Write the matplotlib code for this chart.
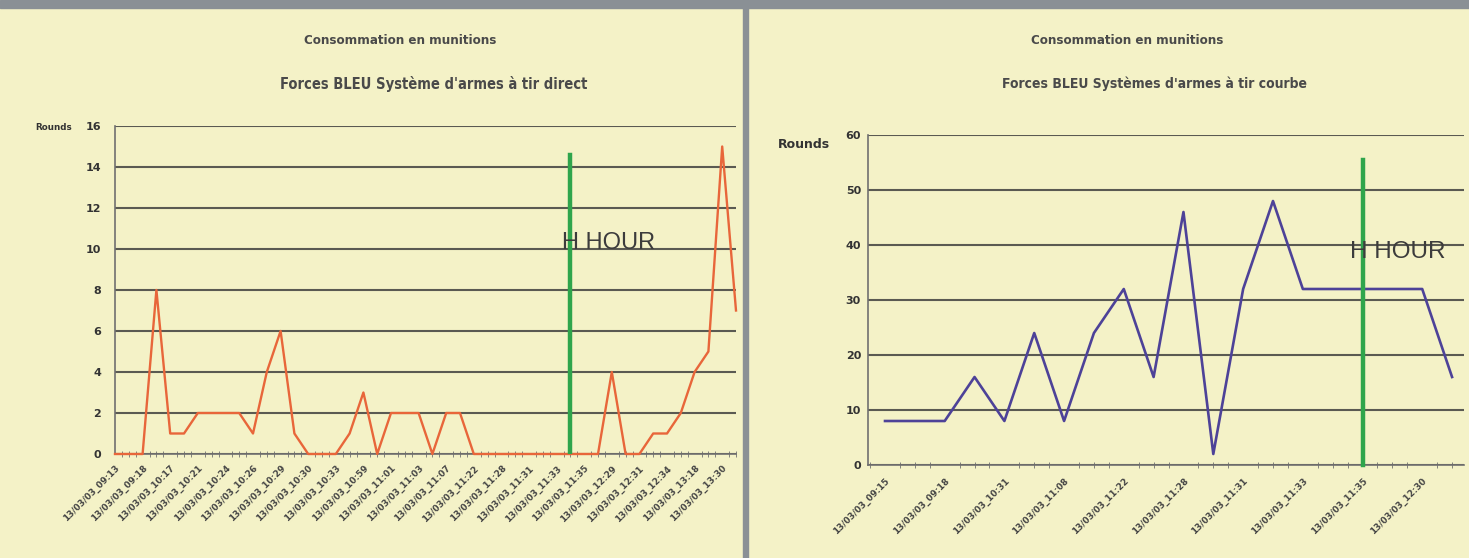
import matplotlib.pyplot as plt
import numpy as np
from matplotlib.patches import Rectangle

# tir direct (left chart), one value per time stamp
direct_rounds = [0, 0, 0, 8, 1, 1, 2, 2, 2, 2, 1, 4, 6, 1, 0, 0, 0, 1, 3, 0,
                 2, 2, 2, 0, 2, 2, 0, 0, 0, 0, 0, 0, 0, 0, 0, 0, 4, 0, 0, 1,
                 1, 2, 4, 5, 15, 7]
direct_labels = ["09:13", "09:18", "10:17", "10:21", "10:24", "10:26", "10:29",
                 "10:30", "10:33", "10:59", "11:01", "11:03", "11:07", "11:22",
                 "11:28", "11:31", "11:33", "11:35", "12:29", "12:31", "12:34",
                 "13:18", "13:30"]
direct_hhour = 33
direct_hhour_top = 14.6

# tir courbe (right chart)
curve_rounds = [8, 8, 8, 16, 8, 24, 8, 24, 32, 16, 46, 2, 32, 48, 32, 32, 32,
                32, 32, 16]
curve_labels = ["09:15", "09:18", "10:31", "11:08", "11:22", "11:28", "11:31",
                "11:33", "11:35", "12:30"]
curve_hhour = 16
curve_hhour_top = 55.5

date_prefix = "13/03/03_"

bg = "#f4f2c7"
grid_c = "#5a5a52"
text_c = "#4a4a4a"

W, H = 1469, 558
fig = plt.figure(figsize=(W / 100, H / 100), dpi=100, facecolor=bg)

# grey frame: top band and divider between the two panels
fig.patches.append(Rectangle((0, 1 - 8 / H), 1, 8 / H, transform=fig.transFigure,
                             color="#8a9095", zorder=0))
fig.patches.append(Rectangle((743 / W, 0), 5 / W, 1 - 8 / H, transform=fig.transFigure,
                             color="#8a9095", zorder=0))


def style_axes(ax, ymax, ystep, ypad):
    ax.set_facecolor("none")
    for s in ["top", "right"]:
        ax.spines[s].set_visible(False)
    for s in ["left", "bottom"]:
        ax.spines[s].set_color("#707070")
        ax.spines[s].set_linewidth(1.2)
    ax.set_ylim(0, ymax)
    ax.set_yticks(np.arange(0, ymax + 1, ystep))
    ax.yaxis.grid(True, color=grid_c, linewidth=1.5)
    ax.set_axisbelow(True)
    ax.tick_params(axis="y", length=0, pad=ypad, labelsize=8, labelcolor="#333333")
    for lab in ax.get_yticklabels():
        lab.set_fontweight("bold")
    ax.tick_params(axis="x", which="both", direction="inout", color="#707070",
                   labelsize=6.3, labelcolor="#444444")
    ax.tick_params(axis="x", which="major", length=0)
    ax.tick_params(axis="x", which="minor", length=4)


# ---- left chart
ax = fig.add_axes([115 / W, 1 - 454 / H, 621 / W, 328 / H])
style_axes(ax, 16, 2, 10)
x1 = np.arange(len(direct_rounds))
ax.plot(x1, direct_rounds, color="#e8663a", linewidth=1.7, clip_on=False, zorder=3)
ax.plot([direct_hhour, direct_hhour], [0, direct_hhour_top], color="#2fa54c",
        linewidth=3.2, zorder=4)
ax.text(direct_hhour - 0.6, 10.3, "H HOUR", family="Liberation Sans", fontsize=17,
        color="#3c3c3c", va="center", ha="left", zorder=5)
ax.set_xlim(0, len(direct_rounds) - 1)
ax.set_xticks(np.arange(0, len(direct_rounds), 2))
ax.set_xticks(np.arange(0, len(direct_rounds) - 0.9, 0.5), minor=True)
ax.set_xticklabels([date_prefix + t for t in direct_labels], rotation=45,
                   ha="right", rotation_mode="anchor", fontweight="bold")
ax.tick_params(axis="x", which="major", pad=7)
fig.text(35 / W, 1 - 127 / H, "Rounds", fontsize=6.3, fontweight="bold",
         color="#333333", va="center")
fig.text(400 / W, 1 - 41 / H, "Consommation en munitions", fontsize=9.5,
         fontweight="bold", color=text_c, ha="center", va="center",
         fontstretch="condensed")
fig.text(434 / W, 1 - 84 / H, "Forces BLEU Système d'armes à tir direct", fontsize=10.5,
         fontweight="bold", color=text_c, ha="center", va="center",
         fontstretch="condensed")

# ---- right chart
bx = fig.add_axes([868 / W, 1 - 465 / H, 596 / W, 330 / H])
style_axes(bx, 60, 10, 5)
x2 = np.arange(len(curve_rounds))
bx.plot(x2, curve_rounds, color="#4d4298", linewidth=1.9, zorder=3)
bx.plot([curve_hhour, curve_hhour], [0, curve_hhour_top], color="#2fa54c",
        linewidth=3.2, zorder=4, clip_on=False)
bx.text(curve_hhour - 0.42, 38.8, "H HOUR", family="Liberation Sans", fontsize=17.5,
        color="#3c3c3c", va="center", ha="left", zorder=5)
bx.set_xlim(-0.57, len(curve_rounds) - 0.6)
bx.set_xticks(np.arange(0, len(curve_rounds), 2))
bx.set_xticks(np.arange(-0.5, len(curve_rounds) - 0.5, 0.5), minor=True)
bx.set_xticklabels([date_prefix + t for t in curve_labels], rotation=45,
                   ha="right", rotation_mode="anchor", fontweight="bold")
bx.tick_params(axis="x", which="major", pad=8)
fig.text(778 / W, 1 - 144 / H, "Rounds", fontsize=9, fontweight="bold",
         color="#333333", va="center")
fig.text(1127 / W, 1 - 41 / H, "Consommation en munitions", fontsize=9.5,
         fontweight="bold", color=text_c, ha="center", va="center",
         fontstretch="condensed")
fig.text(1154 / W, 1 - 84 / H, "Forces BLEU Systèmes d'armes à tir courbe",
         fontsize=10, fontweight="bold", color=text_c, ha="center", va="center",
         fontstretch="condensed")

fig.savefig("out.png", dpi=100, facecolor=bg)
